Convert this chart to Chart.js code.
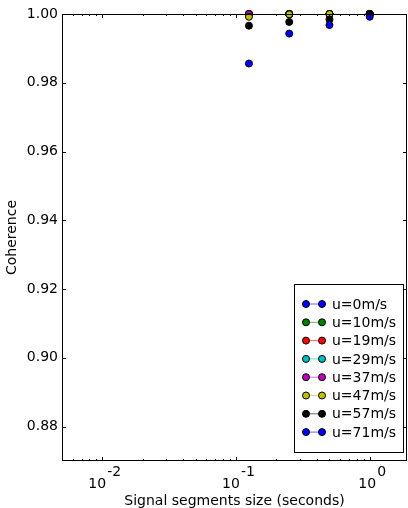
<!DOCTYPE html>
<html>
<head>
<meta charset="utf-8">
<script src="https://cdn.jsdelivr.net/npm/chart.js@4.4.0/dist/chart.umd.min.js"></script>
<style>
    html, body { margin: 0; padding: 0; background: #fff; }
    #wrap { width: 408px; height: 508px; }
</style>
</head>
<body>
<div id="wrap"><canvas id="coherence-chart"></canvas></div>
<script>
// segment sizes (seconds) and wind speed categories
const segmentSizes = [0.125, 0.25, 0.5, 1];
const windLabels = ['u=0m/s', 'u=10m/s', 'u=19m/s', 'u=29m/s', 'u=37m/s', 'u=47m/s', 'u=57m/s', 'u=71m/s'];

// coherence per wind speed
const cohU0 = [1.0, 1.0, 1.0, 1.0];
const cohU10 = [1.0, 1.0, 1.0, 1.0];
const cohU19 = [1.0, 1.0, 1.0, 1.0];
const cohU29 = [1.0, 1.0, 1.0, 1.0];
const cohU37 = [1.0, 1.0, 1.0, 1.0];
const cohU47 = [0.9992, 0.9999, 1.0, 1.0];
const cohU57 = [0.9966, 0.9977, 0.9984, 1.0];
const cohU71 = [0.9856, 0.9943, 0.9968, 0.9992];

const seriesColors = ['#0000ff', '#008000', '#ff0000', '#00bfbf', '#bf00bf', '#bfbf00', '#000000', '#0000ff'];
const lineColors = ['rgba(0,0,255,0.6)', 'rgba(0,128,0,0.6)', 'rgba(255,0,0,0.6)', 'rgba(0,191,191,0.6)',
    'rgba(191,0,191,0.6)', 'rgba(191,191,0,0.6)', 'rgba(0,0,0,0.6)', 'rgba(0,0,255,0.6)'];

// axis ticks
const xTickValues = [0.01, 0.1, 1];
const xTickExponents = ['-2', '-1', '0'];
const yTickValues = [0.88, 0.90, 0.92, 0.94, 0.96, 0.98, 1.00];

const FONT = 'DejaVu Sans';
const allSeries = [cohU0, cohU10, cohU19, cohU29, cohU37, cohU47, cohU57, cohU71];

const datasets = allSeries.map(function (vals, i) {
    return {
        label: windLabels[i],
        data: vals.map(function (v, j) { return { x: segmentSizes[j], y: v }; }),
        showLine: false,
        pointRadius: 3.5,
        pointBackgroundColor: seriesColors[i],
        pointBorderColor: '#000',
        pointBorderWidth: 1,
        borderColor: lineColors[i],
        clip: false,
        order: allSeries.length - i
    };
});

// inward ticks, frame, x labels and legend, matplotlib style
const decorPlugin = {
    id: 'decor',
    afterDraw: function (chart) {
        const ctx = chart.ctx;
        const a = chart.chartArea;
        const xs = chart.scales.x;
        const ys = chart.scales.y;
        ctx.save();
        ctx.strokeStyle = '#000';
        ctx.lineWidth = 1;

        // x ticks, major and minor
        ctx.beginPath();
        for (let k = -3; k <= 0; k++) {
            for (let m = 1; m <= 9; m++) {
                const v = m * Math.pow(10, k);
                if (v < xs.min || v > xs.max) continue;
                const px = Math.round(xs.getPixelForValue(v)) + 0.5;
                const len = m === 1 ? 4 : 2;
                ctx.moveTo(px, a.bottom); ctx.lineTo(px, a.bottom - len);
                ctx.moveTo(px, a.top); ctx.lineTo(px, a.top + len);
            }
        }
        yTickValues.forEach(function (v) {
            const py = Math.round(ys.getPixelForValue(v)) + 0.5;
            ctx.moveTo(a.left, py); ctx.lineTo(a.left + 4, py);
            ctx.moveTo(a.right, py); ctx.lineTo(a.right - 4, py);
        });
        ctx.stroke();

        ctx.strokeRect(a.left + 0.5, a.top + 0.5, a.right - a.left - 1, a.bottom - a.top - 1);

        // x tick labels 10^k
        ctx.fillStyle = '#000';
        ctx.font = '14px "' + FONT + '"';
        ctx.textBaseline = 'alphabetic';
        ctx.textAlign = 'left';
        xTickValues.forEach(function (v, i) {
            const px = xs.getPixelForValue(v);
            const wBase = ctx.measureText('10').width;
            const wExp = ctx.measureText(xTickExponents[i]).width;
            const x0 = px - (wBase + wExp) / 2 + 2;
            ctx.fillText('10', x0, a.bottom + 27);
            ctx.fillText(xTickExponents[i], x0 + wBase + 1, a.bottom + 15);
        });

        // legend
        const lx = 294, ly = 284, lw = 109, lh = 168;
        ctx.fillStyle = '#fff';
        ctx.fillRect(lx, ly, lw, lh);
        ctx.strokeRect(lx + 0.5, ly + 0.5, lw, lh);
        ctx.textBaseline = 'middle';
        chart.data.datasets.forEach(function (ds, i) {
            const ry = ly + 20 + i * 18.3;
            ctx.strokeStyle = ds.borderColor;
            ctx.beginPath();
            ctx.moveTo(lx + 12, ry); ctx.lineTo(lx + 28, ry);
            ctx.stroke();
            [lx + 12, lx + 28].forEach(function (mx) {
                ctx.beginPath();
                ctx.arc(mx, ry, 3.5, 0, Math.PI * 2);
                ctx.fillStyle = ds.pointBackgroundColor;
                ctx.fill();
                ctx.strokeStyle = '#000';
                ctx.stroke();
            });
            ctx.fillStyle = '#000';
            ctx.fillText(ds.label, lx + 38, ry + 1);
        });
        ctx.restore();
    }
};

new Chart(document.getElementById('coherence-chart'), {
    type: 'scatter',
    data: { datasets: datasets },
    options: {
        responsive: true,
        maintainAspectRatio: false,
        animation: false,
        layout: { autoPadding: false, padding: { top: 14, right: 1, left: 0, bottom: 0 } },
        plugins: {
            legend: { display: false },
            tooltip: { enabled: false }
        },
        scales: {
            x: {
                type: 'logarithmic',
                min: 0.005,
                max: 1.9,
                grid: { display: false, drawTicks: false },
                border: { display: false },
                ticks: { display: false },
                title: {
                    display: true,
                    text: 'Signal segments size (seconds)',
                    color: '#000',
                    font: { family: FONT, size: 14 },
                    padding: { top: 0, bottom: -2 }
                },
                afterFit: function (scale) { scale.height = 47; }
            },
            y: {
                min: 0.87,
                max: 1.0,
                grid: { display: false, drawTicks: false },
                border: { display: false },
                afterBuildTicks: function (scale) {
                    scale.ticks = yTickValues.map(function (v) { return { value: v }; });
                },
                ticks: {
                    color: '#000',
                    padding: 4,
                    font: { family: FONT, size: 14 },
                    callback: function (v) { return Number(v).toFixed(2); }
                },
                title: {
                    display: true,
                    text: 'Coherence',
                    color: '#000',
                    font: { family: FONT, size: 14 },
                    padding: { top: 4, bottom: 0 }
                },
                afterFit: function (scale) { scale.width = 62; }
            }
        }
    },
    plugins: [decorPlugin]
});
</script>
</body>
</html>
